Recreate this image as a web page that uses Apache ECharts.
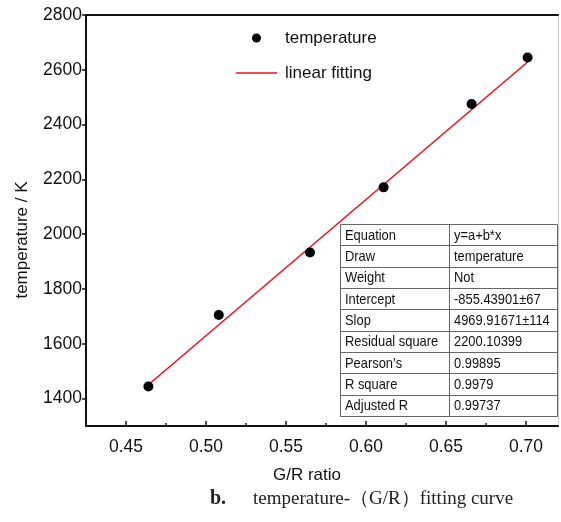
<!DOCTYPE html>
<html>
<head>
<meta charset="utf-8">
<style>
  html, body { margin: 0; padding: 0; background: #fff; }
  #chart { width: 561px; height: 522px; }
</style>
<script src="https://cdn.jsdelivr.net/npm/echarts@6/dist/echarts.min.js"></script>
</head>
<body>
<div id="chart"></div>
<script>
// G/R ratio measurements and the corresponding temperatures (K)
const grRatio = [0.464, 0.508, 0.565, 0.611, 0.666, 0.701];
const temperature = [1444, 1705, 1933, 2171, 2475, 2645];

// linear fit y = a + b*x
const fitIntercept = -855.43901;
const fitSlope = 4969.91671;

// tick positions
const xMajorTicks = [0.45, 0.50, 0.55, 0.60, 0.65, 0.70];
const xMinorTicks = [0.475, 0.525, 0.575, 0.625, 0.675];
const yTicks = [1400, 1600, 1800, 2000, 2200, 2400, 2600, 2800];

// fit report table
const tableLabels = ['Equation', 'Draw', 'Weight', 'Intercept', 'Slop',
  'Residual square', 'Pearson\u2019s', 'R square', 'Adjusted R'];
const tableValues = ['y=a+b*x', 'temperature', 'Not', '-855.43901\u00b167',
  '4969.91671\u00b1114', '2200.10399', '0.99895', '0.9979', '0.99737'];

const FONT = '"Liberation Sans", Arial, sans-serif';

const fitX = [grRatio[0], grRatio[grRatio.length - 1]];
const fitLine = fitX.map(x => [x, fitIntercept + fitSlope * x]);
const points = grRatio.map((x, i) => [x, temperature[i]]);

// table graphic
const tb = { left: 340, top: 224, right: 557, bottom: 416, mid: 449 };
const rowH = (tb.bottom - tb.top) / tableLabels.length;
const tableEls = [];
tableEls.push({
  type: 'rect',
  shape: { x: tb.left + 0.5, y: tb.top + 0.5, width: tb.right - tb.left, height: tb.bottom - tb.top },
  style: { fill: '#fff', stroke: '#666', lineWidth: 1 }
});
tableEls.push({
  type: 'line',
  shape: { x1: tb.mid + 0.5, y1: tb.top, x2: tb.mid + 0.5, y2: tb.bottom },
  style: { stroke: '#666', lineWidth: 1 }
});
for (let i = 1; i < tableLabels.length; i++) {
  const y = Math.round(tb.top + i * rowH) + 0.5;
  tableEls.push({
    type: 'line',
    shape: { x1: tb.left, y1: y, x2: tb.right, y2: y },
    style: { stroke: '#666', lineWidth: 1 }
  });
}
tableLabels.forEach((t, i) => {
  const cy = tb.top + (i + 0.5) * rowH + 1;
  tableEls.push({
    type: 'text', x: tb.left + 5, y: cy, scaleX: 0.86,
    style: { text: t, font: '15px ' + FONT, fill: '#111', verticalAlign: 'middle' }
  });
  tableEls.push({
    type: 'text', x: tb.mid + 5, y: cy, scaleX: 0.86,
    style: { text: tableValues[i], font: '15px ' + FONT, fill: '#111', verticalAlign: 'middle' }
  });
});

const chart = echarts.init(document.getElementById('chart'));
chart.setOption({
  animation: false,
  backgroundColor: '#fff',
  grid: { left: 86, top: 15, right: 3, bottom: 96, containLabel: false },
  legend: {
    orient: 'vertical',
    left: 231, top: 23,
    itemWidth: 41, itemHeight: 9, itemGap: 15,
    textStyle: { fontFamily: FONT, fontSize: 17, color: '#111', lineHeight: 20, padding: [0, 0, 0, 3] },
    data: [
      { name: 'temperature', icon: 'circle' },
      { name: 'linear fitting', icon: 'path://M0 0H41V1.5H0Z' }
    ]
  },
  xAxis: [{
    type: 'value', min: 0.425, max: 0.72,
    axisLine: { show: true, onZero: false, lineStyle: { color: '#111', width: 2 } },
    axisTick: { show: true, inside: true, length: 5, customValues: xMajorTicks, lineStyle: { color: '#111', width: 1.5 } },
    axisLabel: {
      customValues: xMajorTicks, margin: 12,
      fontFamily: FONT, fontSize: 17.5, color: '#111',
      formatter: v => v.toFixed(2)
    },
    splitLine: { show: false }
  }, {
    type: 'value', min: 0.425, max: 0.72, position: 'bottom',
    axisLine: { show: false },
    axisTick: { show: true, inside: true, length: 3, customValues: xMinorTicks, lineStyle: { color: '#111', width: 1.5 } },
    axisLabel: { show: false },
    splitLine: { show: false }
  }, {
    type: 'value', min: 0.425, max: 0.72, position: 'top',
    axisLine: { show: true, lineStyle: { color: '#111', width: 2 } },
    axisTick: { show: false }, axisLabel: { show: false }, splitLine: { show: false }
  }],
  yAxis: [{
    type: 'value', min: 1300, max: 2800,
    axisLine: { show: true, onZero: false, lineStyle: { color: '#111', width: 2 } },
    axisTick: { show: true, length: 4, customValues: yTicks, lineStyle: { color: '#111', width: 1.5 } },
    axisLabel: {
      customValues: yTicks, margin: 4, fontFamily: FONT, fontSize: 17.5, color: '#111',
      formatter: v => String(v)
    },
    splitLine: { show: false }
  }, {
    type: 'value', min: 1300, max: 2800, position: 'right',
    axisLine: { show: true, lineStyle: { color: '#ccc', width: 1 } },
    axisTick: { show: false }, axisLabel: { show: false }, splitLine: { show: false }
  }],
  series: [{
    name: 'linear fitting',
    type: 'line',
    data: fitLine,
    symbol: 'none',
    lineStyle: { color: '#e8141c', width: 1.6 },
    itemStyle: { color: '#e8141c' },
    z: 2
  }, {
    name: 'temperature',
    type: 'scatter',
    data: points,
    symbolSize: 10,
    itemStyle: { color: '#000', opacity: 1 },
    z: 3
  }],
  graphic: [
    {
      type: 'text', x: 22, y: 240, rotation: Math.PI / 2,
      style: { text: 'temperature / K', font: '17px ' + FONT, fill: '#111', align: 'center', verticalAlign: 'middle' }
    },
    {
      type: 'text', x: 307, y: 475,
      style: { text: 'G/R ratio', font: '17px ' + FONT, fill: '#111', align: 'center', verticalAlign: 'middle' }
    },
    {
      type: 'text', x: 210, y: 499,
      style: { text: 'b.', font: 'bold 20px "Liberation Serif", serif', fill: '#222', verticalAlign: 'middle' }
    },
    {
      type: 'text', x: 253, y: 499,
      style: { text: 'temperature-\uff08G/R\uff09fitting curve', font: '19px "Liberation Serif", serif', fill: '#222', verticalAlign: 'middle' }
    },
    { type: 'group', children: tableEls, z: 10 }
  ]
});
</script>
</body>
</html>
